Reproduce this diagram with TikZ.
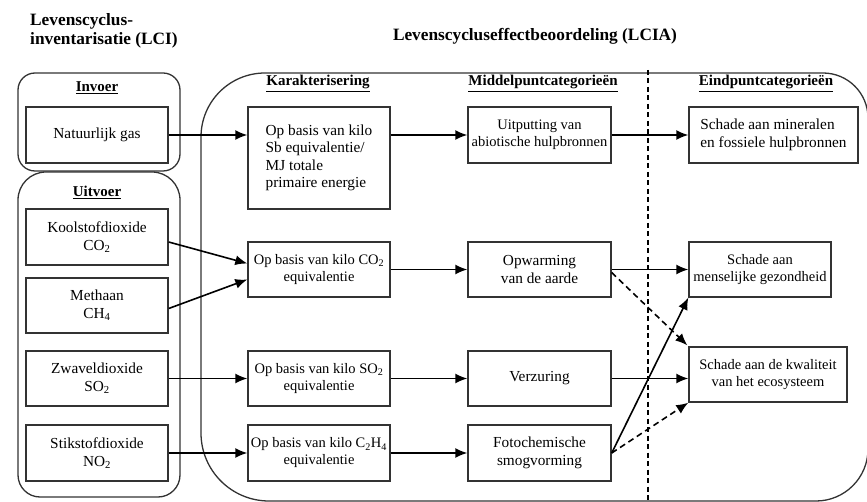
\documentclass[tikz,border=0pt]{standalone}
\usepackage{fontspec}
\setmainfont{Liberation Serif}
\usetikzlibrary{arrows.meta,calc}
\begin{document}
\begin{tikzpicture}[x=1pt,y=-1pt,
 box/.style={draw=black!80,line width=1.4pt,inner sep=0pt,align=center,font=\fontsize{14.5}{17}\selectfont},
 bigtxt/.style={font=\fontsize{15.3}{17.5}\selectfont},
 grp/.style={draw=black!80,line width=1.3pt},
 arr/.style={line width=1.6pt,-{Latex[length=12pt,width=10pt]}},
 darr/.style={arr,dash pattern=on 6pt off 4pt},
 hdr/.style={font=\fontsize{15}{17}\bfseries\selectfont,anchor=base,inner sep=0pt},
 ttl/.style={font=\fontsize{17.3}{19}\bfseries\selectfont,inner sep=0pt}]
\useasboundingbox (0,0) rectangle (867,502);

% titles
\node[ttl,anchor=base west] (lci1) at (30,26) {Levenscyclus-};
\node[ttl,anchor=base west] (lci2) at (30,45) {inventarisatie (LCI)};
\node[ttl,anchor=base] (lcia) at (535,41) {Levenscycluseffectbeoordeling (LCIA)};

% group outlines
\draw[grp,rounded corners=17pt] (18,73) rectangle (180,171);
\draw[grp] (18,330) [rounded corners=28pt] -- (18,172) -- (99,172) -- (180,172) -- (180,330)
  [rounded corners=22pt] -- (180,497) -- (99,497) -- (18,497) -- (18,330);
\draw[grp] (201,300) [rounded corners=64pt] -- (201,73) -- (500,73)
  [rounded corners=45pt] -- (868,73) -- (868,300)
  [rounded corners=52pt] -- (868,501) -- (500,501)
  [rounded corners=68pt] -- (201,501) -- (201,300);

% dashed divider
\draw[line width=1.2pt,dash pattern=on 5pt off 3.5pt] (648,70) -- (648,502);

% headers
\node[hdr] (hin) at (97,92) {\underline{Invoer}};
\node[hdr] (hout) at (97,197) {\underline{Uitvoer}};
\node[hdr] (hk) at (318,86) {\underline{Karakterisering}};
\node[hdr] (hm) at (543,86) {\underline{Middelpuntcategorieën}};
\node[hdr] (he) at (766,86) {\underline{Eindpuntcategorieën}};

% inventory boxes
\node[box,bigtxt,minimum width=142pt,minimum height=56pt] (ng) at (97,135) {Natuurlijk gas};
\node[box,bigtxt,minimum width=142pt,minimum height=56pt] (co) at (97,237) {Koolstofdioxide\\CO\textsubscript{2}};
\node[box,bigtxt,minimum width=142pt,minimum height=55pt] (ch) at (97,305.5) {Methaan\\CH\textsubscript{4}};
\node[box,bigtxt,minimum width=142pt,minimum height=55pt] (so) at (97,378.5) {Zwaveldioxide\\SO\textsubscript{2}};
\node[box,bigtxt,minimum width=142pt,minimum height=56pt] (no) at (97,453) {Stikstofdioxide\\NO\textsubscript{2}};

% characterisation boxes
\node[box,bigtxt,align=left,minimum width=142pt,minimum height=102pt] (k1) at (319,158) {Op basis van kilo\\Sb equivalentie/\\MJ totale\\primaire energie};
\node[box,minimum width=142pt,minimum height=55pt] (k2) at (319,269.5) {Op basis van kilo CO\textsubscript{2}\\equivalentie};
\node[box,minimum width=142pt,minimum height=55pt] (k3) at (319,378.5) {Op basis van kilo SO\textsubscript{2}\\equivalentie};
\node[box,minimum width=142pt,minimum height=56pt] (k4) at (319,453) {Op basis van kilo C\textsubscript{2}H\textsubscript{4}\\equivalentie};

% midpoint boxes
\node[box,minimum width=143pt,minimum height=56pt] (m1) at (539.5,135) {Uitputting van\\abiotische hulpbronnen};
\node[box,bigtxt,minimum width=143pt,minimum height=55pt] (m2) at (539.5,269.5) {Opwarming\\van de aarde};
\node[box,bigtxt,minimum width=143pt,minimum height=55pt] (m3) at (539.5,378.5) {Verzuring};
\node[box,bigtxt,minimum width=143pt,minimum height=56pt] (m4) at (539.5,453) {Fotochemische\\smogvorming};

% endpoint boxes
\node[box,bigtxt,align=left,minimum width=169pt,minimum height=56pt] (e1) at (773.5,135) {Schade aan mineralen\\en fossiele hulpbronnen};
\node[box,minimum width=142pt,minimum height=55pt] (e2) at (760,269.5) {Schade aan\\menselijke gezondheid};
\node[box,minimum width=158pt,minimum height=55pt] (e3) at (768,374.5) {Schade aan de kwaliteit\\van het ecosysteem};

% arrows
\draw[arr] (ng.east) -- (ng.east -| k1.west);
\draw[arr] ($(co.east)+(0,5)$) -- ($(k2.west)+(0,-6)$);
\draw[arr] ($(ch.east)+(0,3)$) -- ($(k2.west)+(0,10)$);
\draw[arr] (so.east) -- (k3.west);
\draw[arr] (no.east) -- (k4.west);

\draw[arr] (m1.west -| k1.east) -- (m1.west);
\draw[arr] (k2.east) -- (m2.west);
\draw[arr] (k3.east) -- (m3.west);
\draw[arr] (k4.east) -- (m4.west);

\draw[arr] (m1.east) -- (e1.west);
\draw[arr] (m2.east) -- (e2.west);
\draw[arr] (m3.east) -- (m3.east -| e3.west);
\draw[darr] ($(m2.east)+(0,3)$) -- ($(e3.north west)+(-1,-1)$);
\draw[arr] (m4.east) -- (e2.south west);
\draw[darr] (m4.east) -- (e3.south west);
\end{tikzpicture}
\end{document}
